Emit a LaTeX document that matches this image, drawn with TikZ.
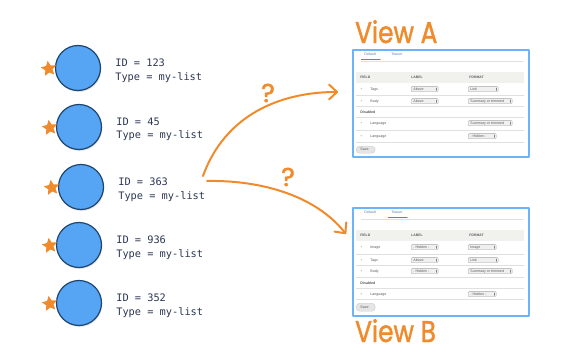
\documentclass[tikz,border=0pt]{standalone}
\usepackage{fontspec}
\setmainfont{Liberation Sans}
\newfontfamily\idfont{DejaVu Sans Mono}
\newfontfamily\handfont[FakeBold=1.6]{Poppins}
\usetikzlibrary{arrows.meta,positioning,shapes.geometric,shadows}

\definecolor{navy}{HTML}{1E4470}
\definecolor{idink}{HTML}{2B3652}
\definecolor{bubblefill}{HTML}{55A5F4}
\definecolor{marker}{HTML}{F08A2B}
\definecolor{frame}{HTML}{6AB4F7}
\definecolor{tabink}{HTML}{4F86C6}
\definecolor{band}{HTML}{F1F1EE}

\begin{document}
\begin{tikzpicture}[x=1pt,y=-1pt,line cap=round,line join=round,
  >={Straight Barb[length=8pt,width=15pt,round]},
  bubble/.style={circle,draw=navy,line width=1.2pt,fill=bubblefill,minimum size=45pt,inner sep=0pt,
    drop shadow={shadow xshift=0.8pt,shadow yshift=-1.5pt,opacity=0.2}},
  fav/.style={star,star points=5,star point ratio=2.1,fill=marker,minimum size=16pt,inner sep=0pt,rotate=8},
  idtext/.style={font=\idfont\fontsize{10.3}{13.5}\selectfont,text=idink,align=left,inner sep=0pt,yshift=-2.5pt},
  hand/.style={draw=marker,line width=2pt},
  handtext/.style={font=\handfont\fontsize{30}{32}\selectfont,text=marker,inner sep=0pt},
  panel/.style={draw=frame,line width=1.6pt,fill=white,minimum width=176pt,minimum height=107pt,inner sep=0pt},
  ptext/.style={font=\fontsize{3.6}{4}\selectfont,text=black!65,inner sep=0pt,anchor=west},
  sel/.style={draw=black!35,fill=black!6,line width=0.3pt,rounded corners=1pt},
  rowline/.style={draw=black!12,line width=0.4pt}]
\useasboundingbox (0,0) rectangle (579,364);

% list items: bubble, star and id text
\foreach \i/\x/\y/\id in {1/78/68/123,2/79/127/45,3/81/187/363,4/79/245/936,5/79/303/352}{
  \node[bubble] (c\i) at (\x,\y) {};
  \node[fav,left=1pt of c\i] (s\i) {};
  \node[idtext,right=14pt of c\i] (t\i) {ID = \id\\Type = my-list};
}

% the two display panels
\node[panel] (viewA) at (441,103.5) {};
\node[panel,minimum height=108pt] (viewB) at (441,262) {};
\node[handtext,anchor=base west,xscale=0.83] (labA) at (355,43) {View A};
\node[handtext,anchor=base west,xscale=0.83] (labB) at (355,342) {View B};

% view A: default display
\begin{scope}[shift={(viewA.north west)}]
\node[ptext,text=tabink] (a-def) at (12,5) {Default};
\node[ptext,text=tabink] (a-tea) at (39,5) {Teaser};
\draw[tabink,line width=0.7pt] (9,10) -- (28,10);
\draw[rowline] (9,11.5) -- (171,11.5);
\fill[band] (4,23) rectangle (172,34);
\node[ptext,font=\bfseries\fontsize{3.4}{4}\selectfont] (a-h1) at (8,28.5) {FIELD};
\node[ptext,font=\bfseries\fontsize{3.4}{4}\selectfont] (a-h2) at (59,28.5) {LABEL};
\node[ptext,font=\bfseries\fontsize{3.4}{4}\selectfont] (a-h3) at (117,28.5) {FORMAT};
\foreach \y in {46,57,68,81,93}
  \draw[rowline] (4,\y) -- (172,\y);
\foreach \n/\y/\f/\l/\fm/\w in {1/40/Tags/Above/Link/30,2/52/Body/Above/Summary or trimmed/44}{
  \node[ptext,text=black!40] (a-p\n) at (8,\y) {+};
  \node[ptext] (a-f\n) at (18,\y) {\f};
  \draw[sel] (59,\y-2.6) rectangle (86,\y+2.6);
  \draw[black!50,line width=0.3pt] (83.5,\y-1.3) -- (83.5,\y+1.3);
  \node[ptext] (a-l\n) at (61,\y) {\l};
  \draw[sel] (116,\y-2.6) rectangle (116+\w,\y+2.6);
  \draw[black!50,line width=0.3pt] (113.5+\w,\y-1.3) -- (113.5+\w,\y+1.3);
  \node[ptext] (a-m\n) at (118,\y) {\fm};
}
\node[ptext,font=\bfseries\fontsize{3.6}{4}\selectfont] (a-dis) at (8,63) {Disabled};
\foreach \n/\y/\fm/\w in {3/74/Summary or trimmed/44,4/87/- Hidden -/28}{
  \node[ptext,text=black!40] (a-p\n) at (8,\y) {+};
  \node[ptext] (a-f\n) at (18,\y) {Language};
  \draw[sel] (116,\y-2.6) rectangle (116+\w,\y+2.6);
  \draw[black!50,line width=0.3pt] (113.5+\w,\y-1.3) -- (113.5+\w,\y+1.3);
  \node[ptext] (a-m\n) at (118,\y) {\fm};
}
\draw[draw=black!20,fill=black!10,rounded corners=3.5pt] (4,97) rectangle (23,104);
\node[ptext] (a-save) at (8,100.5) {Save};
\end{scope}

% view B: teaser display
\begin{scope}[shift={(viewB.north west)}]
\node[ptext,text=tabink] (b-def) at (12,5) {Default};
\node[ptext,text=tabink] (b-tea) at (39,5) {Teaser};
\draw[tabink,line width=0.7pt] (36,10) -- (55,10);
\draw[rowline] (9,11.5) -- (171,11.5);
\fill[band] (4,23) rectangle (172,34);
\node[ptext,font=\bfseries\fontsize{3.4}{4}\selectfont] (b-h1) at (8,28.5) {FIELD};
\node[ptext,font=\bfseries\fontsize{3.4}{4}\selectfont] (b-h2) at (59,28.5) {LABEL};
\node[ptext,font=\bfseries\fontsize{3.4}{4}\selectfont] (b-h3) at (117,28.5) {FORMAT};
\foreach \y in {47,58,70,81,92}
  \draw[rowline] (4,\y) -- (172,\y);
\foreach \n/\y/\f/\l/\fm/\w in {1/40/Image/- Hidden -/Image/28,2/53/Tags/Above/Link/30,3/64/Body/- Hidden -/Summary or trimmed/44}{
  \node[ptext,text=black!40] (b-p\n) at (8,\y) {+};
  \node[ptext] (b-f\n) at (18,\y) {\f};
  \draw[sel] (59,\y-2.6) rectangle (86,\y+2.6);
  \draw[black!50,line width=0.3pt] (83.5,\y-1.3) -- (83.5,\y+1.3);
  \node[ptext] (b-l\n) at (61,\y) {\l};
  \draw[sel] (116,\y-2.6) rectangle (116+\w,\y+2.6);
  \draw[black!50,line width=0.3pt] (113.5+\w,\y-1.3) -- (113.5+\w,\y+1.3);
  \node[ptext] (b-m\n) at (118,\y) {\fm};
}
\node[ptext,font=\bfseries\fontsize{3.6}{4}\selectfont] (b-dis) at (8,76) {Disabled};
\node[ptext,text=black!40] (b-p4) at (8,87) {+};
\node[ptext] (b-f4) at (18,87) {Language};
\draw[sel] (116,84.4) rectangle (144,89.6);
\draw[black!50,line width=0.3pt] (141.5,85.7) -- (141.5,88.3);
\node[ptext] (b-m4) at (118,87) {- Hidden -};
\draw[draw=black!20,fill=black!10,rounded corners=3.5pt] (4,96) rectangle (23,104);
\node[ptext] (b-save) at (8,100) {Save};
\end{scope}

% which view? hand drawn arrows
\coordinate (fromA) at (203,176);
\coordinate (toA) at (338,92);
\coordinate (fromB) at (207,181);
\coordinate (toB) at (346,234);
\draw[hand,->] (fromA) .. controls (225,115) and (280,92) .. (toA);
\draw[hand,->] (fromB) .. controls (260,180) and (315,195) .. (toB);
\node[handtext,font=\handfont\fontsize{26}{28}\selectfont] (q1) at (268,93) {?};
\node[handtext,font=\handfont\fontsize{26}{28}\selectfont] (q2) at (288,177) {?};
\end{tikzpicture}
\end{document}
